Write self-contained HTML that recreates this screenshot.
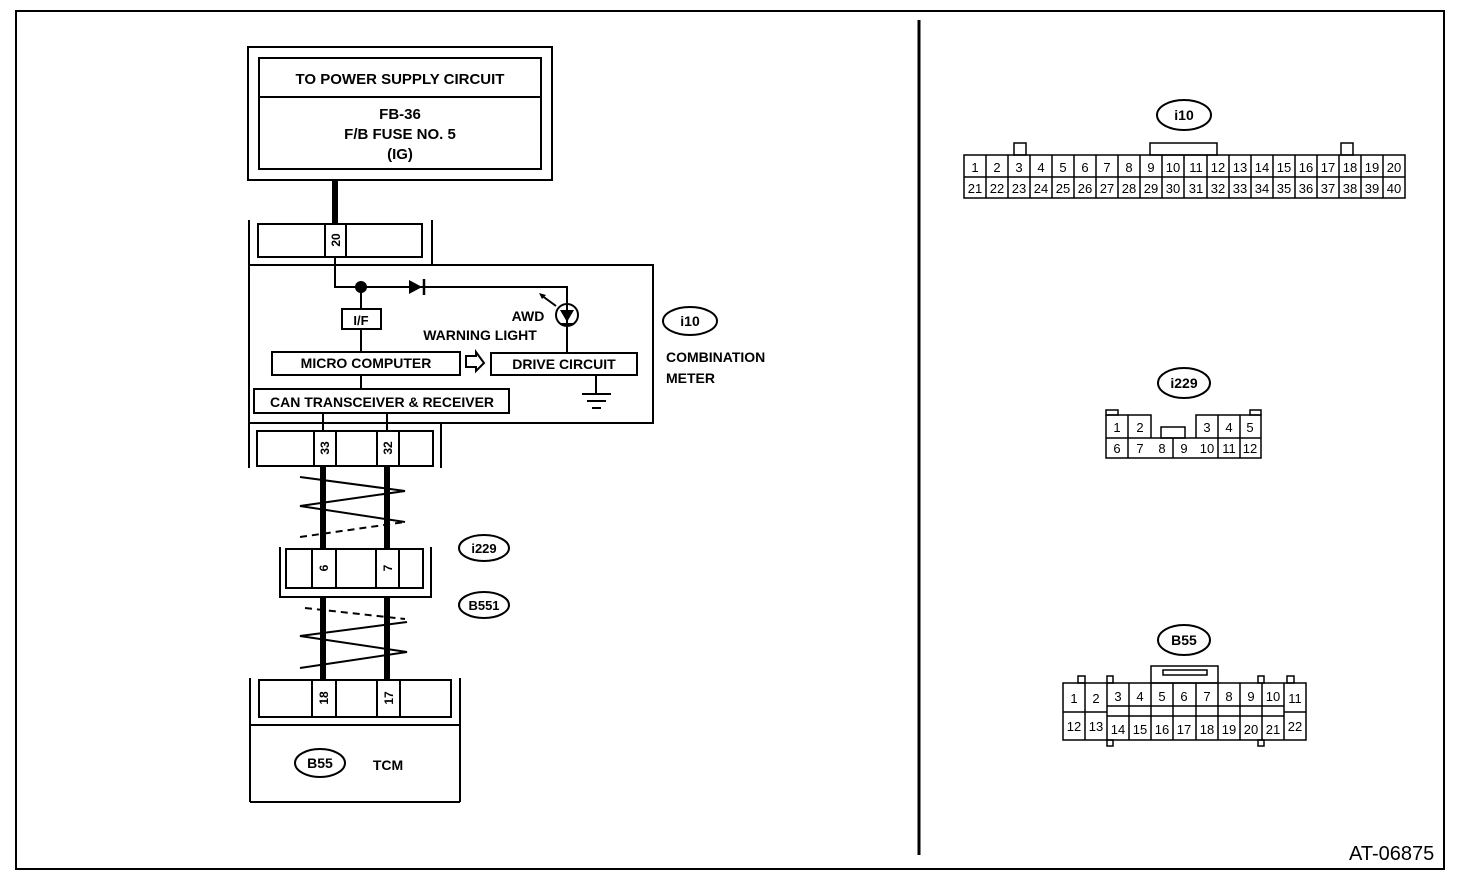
<!DOCTYPE html>
<html><head><meta charset="utf-8"><style>
html,body{margin:0;padding:0;background:#fff}
svg{display:block}
text{font-family:"Liberation Sans",Arial,sans-serif;font-weight:bold;fill:#000}
.n text{font-weight:normal;font-size:13px}
</style></head><body>
<svg width="1472" height="876" viewBox="0 0 1472 876" xmlns="http://www.w3.org/2000/svg">
<g fill="none" stroke="#000" stroke-width="2">
<rect x="16" y="11" width="1428" height="858"/>
<line x1="919" y1="20" x2="919" y2="855" stroke-width="3"/>
<rect x="248" y="47" width="304" height="133"/>
<rect x="259" y="58" width="282" height="111"/>
<line x1="259" y1="97" x2="541" y2="97"/>
</g>
<line x1="335" y1="180" x2="335" y2="224" stroke="#000" stroke-width="6"/>
<g font-size="15" text-anchor="middle">
<text x="400" y="84">TO POWER SUPPLY CIRCUIT</text>
<text x="400" y="119">FB-36</text>
<text x="400" y="139">F/B FUSE NO. 5</text>
<text x="400" y="159">(IG)</text>
</g>
<g fill="none" stroke="#000" stroke-width="2">
<line x1="249" y1="220" x2="249" y2="468"/>
<line x1="432" y1="220" x2="432" y2="265"/>
<rect x="258" y="224" width="164" height="33"/>
<line x1="325" y1="224" x2="325" y2="257"/><line x1="346" y1="224" x2="346" y2="257"/>
<rect x="249" y="265" width="404" height="158"/>
<polyline points="335,257 335,287 567,287 567,352"/>
<line x1="361" y1="287" x2="361" y2="309"/><line x1="361" y1="329" x2="361" y2="352"/>
<rect x="342" y="309" width="39" height="20"/>
<rect x="272" y="352" width="188" height="23"/>
<rect x="491" y="353" width="146" height="22"/>
<rect x="254" y="389" width="255" height="24"/>
<line x1="361" y1="375" x2="361" y2="389"/>
<circle cx="567" cy="315" r="11"/>
<line x1="596" y1="375" x2="596" y2="393"/>
<line x1="582" y1="394" x2="611" y2="394"/><line x1="587" y1="401" x2="606" y2="401"/><line x1="592" y1="408" x2="601" y2="408"/>
<line x1="323" y1="413" x2="323" y2="431"/><line x1="387" y1="413" x2="387" y2="431"/>
<line x1="441" y1="423" x2="441" y2="468"/>
<rect x="257" y="431" width="176" height="35"/>
<line x1="314" y1="431" x2="314" y2="466"/><line x1="336" y1="431" x2="336" y2="466"/>
<line x1="377" y1="431" x2="377" y2="466"/><line x1="399" y1="431" x2="399" y2="466"/>
<polyline points="280,547 280,597 431,597 431,547"/>
<rect x="286" y="549" width="137" height="39"/>
<line x1="312" y1="549" x2="312" y2="588"/><line x1="336" y1="549" x2="336" y2="588"/>
<line x1="376" y1="549" x2="376" y2="588"/><line x1="399" y1="549" x2="399" y2="588"/>
<line x1="250" y1="678" x2="250" y2="802"/><line x1="460" y1="678" x2="460" y2="802"/>
<rect x="259" y="680" width="192" height="37"/>
<line x1="312" y1="680" x2="312" y2="717"/><line x1="336" y1="680" x2="336" y2="717"/>
<line x1="377" y1="680" x2="377" y2="717"/><line x1="400" y1="680" x2="400" y2="717"/>
<line x1="250" y1="725" x2="460" y2="725"/>
<line x1="250" y1="802" x2="460" y2="802"/>
<polyline points="300,477 405,491 300,506 405,522"/>
<line x1="300" y1="537" x2="405" y2="522" stroke-dasharray="7,5"/>
<line x1="305" y1="608" x2="405" y2="619" stroke-dasharray="7,5"/>
<polyline points="407,622 300,636 407,652 300,668"/>
<ellipse cx="484" cy="548" rx="25" ry="13"/>
<ellipse cx="484" cy="605" rx="25" ry="13"/>
<ellipse cx="690" cy="321" rx="27" ry="14"/>
<ellipse cx="320" cy="763" rx="25" ry="14"/>
</g>
<g stroke="#000" stroke-width="6">
<line x1="323" y1="466" x2="323" y2="549"/><line x1="387" y1="466" x2="387" y2="549"/>
<line x1="323" y1="597" x2="323" y2="680"/><line x1="387" y1="597" x2="387" y2="680"/>
</g>
<circle cx="361" cy="287" r="6" fill="#000"/>
<polygon points="409,280 409,294 422,287" fill="#000"/>
<line x1="424" y1="279" x2="424" y2="295" stroke="#000" stroke-width="2.5"/>
<polygon points="560,310 574,310 567,322" fill="#000"/>
<line x1="560" y1="324" x2="574" y2="324" stroke="#000" stroke-width="2"/>
<line x1="541" y1="295" x2="556" y2="306" stroke="#000" stroke-width="2"/>
<polygon points="539,293 546,295 542,299" fill="#000"/>
<polygon points="466,356 476,356 476,352 484,363 476,371 476,367 466,367" fill="none" stroke="#000" stroke-width="2"/>
<g font-size="14" text-anchor="middle">
<text x="366" y="368">MICRO COMPUTER</text>
<text x="564" y="369">DRIVE CIRCUIT</text>
<text x="382" y="407">CAN TRANSCEIVER &amp; RECEIVER</text>
<text x="361" y="325" font-size="13">I/F</text>
<text x="528" y="321">AWD</text>
<text x="480" y="340">WARNING LIGHT</text>
<text x="690" y="326">i10</text>
<text x="484" y="553" font-size="13">i229</text>
<text x="484" y="610" font-size="13">B551</text>
<text x="320" y="768">B55</text>
<text x="388" y="770">TCM</text>
</g>
<text x="666" y="362" font-size="14">COMBINATION</text>
<text x="666" y="383" font-size="14">METER</text>
<g font-size="12" text-anchor="middle">
<text transform="translate(340,240) rotate(-90)">20</text>
<text transform="translate(329,448) rotate(-90)">33</text>
<text transform="translate(392,448) rotate(-90)">32</text>
<text transform="translate(328,568) rotate(-90)">6</text>
<text transform="translate(392,568) rotate(-90)">7</text>
<text transform="translate(328,698) rotate(-90)">18</text>
<text transform="translate(393,698) rotate(-90)">17</text>
</g>
<text x="1349" y="860" font-size="20" style="font-weight:normal">AT-06875</text>

<g fill="none" stroke="#000" stroke-width="1.5">
<ellipse cx="1184" cy="115" rx="27" ry="15" stroke-width="2"/>
<rect x="1014" y="143" width="12" height="12"/><rect x="1150" y="143" width="67" height="12"/><rect x="1341" y="143" width="12" height="12"/>
<rect x="964" y="155" width="441" height="43"/>
<line x1="964" y1="177" x2="1405" y2="177"/>
<path d="M986 155V198M1008 155V198M1030 155V198M1052 155V198M1074 155V198M1096 155V198M1118 155V198M1140 155V198M1162 155V198M1184 155V198M1207 155V198M1229 155V198M1251 155V198M1273 155V198M1295 155V198M1317 155V198M1339 155V198M1361 155V198M1383 155V198"/>
</g>
<text x="1184" y="120" font-size="14" text-anchor="middle">i10</text>
<g class="n" text-anchor="middle">
<text x="975" y="172">1</text><text x="997" y="172">2</text><text x="1019" y="172">3</text><text x="1041" y="172">4</text><text x="1063" y="172">5</text><text x="1085" y="172">6</text><text x="1107" y="172">7</text><text x="1129" y="172">8</text><text x="1151" y="172">9</text><text x="1173" y="172">10</text><text x="1196" y="172">11</text><text x="1218" y="172">12</text><text x="1240" y="172">13</text><text x="1262" y="172">14</text><text x="1284" y="172">15</text><text x="1306" y="172">16</text><text x="1328" y="172">17</text><text x="1350" y="172">18</text><text x="1372" y="172">19</text><text x="1394" y="172">20</text>
<text x="975" y="193">21</text><text x="997" y="193">22</text><text x="1019" y="193">23</text><text x="1041" y="193">24</text><text x="1063" y="193">25</text><text x="1085" y="193">26</text><text x="1107" y="193">27</text><text x="1129" y="193">28</text><text x="1151" y="193">29</text><text x="1173" y="193">30</text><text x="1196" y="193">31</text><text x="1218" y="193">32</text><text x="1240" y="193">33</text><text x="1262" y="193">34</text><text x="1284" y="193">35</text><text x="1306" y="193">36</text><text x="1328" y="193">37</text><text x="1350" y="193">38</text><text x="1372" y="193">39</text><text x="1394" y="193">40</text>
</g>

<g fill="none" stroke="#000" stroke-width="1.5">
<ellipse cx="1184" cy="383" rx="26" ry="15" stroke-width="2"/>
<rect x="1106" y="410" width="12" height="5"/><rect x="1250" y="410" width="11" height="5"/>
<rect x="1161" y="427" width="24" height="11"/>
<path d="M1106 415H1151V438M1196 438V415H1261V458H1106V415M1106 438H1261M1128 415V458M1173 438V458M1218 415V458M1240 415V458"/>
</g>
<text x="1184" y="388" font-size="14" text-anchor="middle">i229</text>
<g class="n" text-anchor="middle">
<text x="1117" y="432">1</text><text x="1140" y="432">2</text><text x="1207" y="432">3</text><text x="1229" y="432">4</text><text x="1250" y="432">5</text>
<text x="1117" y="453">6</text><text x="1140" y="453">7</text><text x="1162" y="453">8</text><text x="1184" y="453">9</text><text x="1207" y="453">10</text><text x="1229" y="453">11</text><text x="1250" y="453">12</text>
</g>

<g fill="none" stroke="#000" stroke-width="1.5">
<ellipse cx="1184" cy="640" rx="26" ry="15" stroke-width="2"/>
<rect x="1151" y="666" width="67" height="17"/>
<rect x="1163" y="670" width="44" height="5"/>
<rect x="1078" y="676" width="7" height="7"/><rect x="1107" y="676" width="6" height="7"/><rect x="1258" y="676" width="6" height="7"/><rect x="1287" y="676" width="7" height="7"/>
<rect x="1107" y="740" width="6" height="6"/><rect x="1258" y="740" width="6" height="6"/>
<rect x="1063" y="683" width="243" height="57"/>
<path d="M1063 712H1107M1284 712H1306M1107 706H1284M1107 716H1284"/>
<path d="M1085 683V740M1107 683V740M1129 683V740M1151 683V740M1173 683V740M1196 683V740M1218 683V740M1240 683V740M1262 683V740M1284 683V740"/>
</g>
<text x="1184" y="645" font-size="14" text-anchor="middle">B55</text>
<g class="n" text-anchor="middle">
<text x="1074" y="703">1</text><text x="1096" y="703">2</text><text x="1118" y="701">3</text><text x="1140" y="701">4</text><text x="1162" y="701">5</text><text x="1184" y="701">6</text><text x="1207" y="701">7</text><text x="1229" y="701">8</text><text x="1251" y="701">9</text><text x="1273" y="701">10</text><text x="1295" y="703">11</text>
<text x="1074" y="731">12</text><text x="1096" y="731">13</text><text x="1118" y="734">14</text><text x="1140" y="734">15</text><text x="1162" y="734">16</text><text x="1184" y="734">17</text><text x="1207" y="734">18</text><text x="1229" y="734">19</text><text x="1251" y="734">20</text><text x="1273" y="734">21</text><text x="1295" y="731">22</text>
</g>
</svg>
</body></html>
